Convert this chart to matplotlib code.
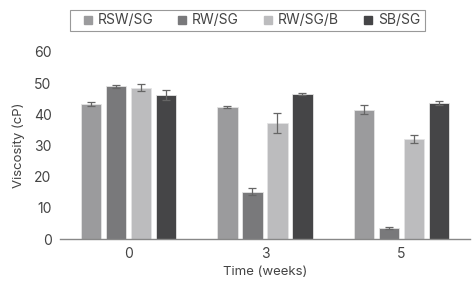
import matplotlib
matplotlib.use("Agg")
import matplotlib.pyplot as plt
import numpy as np
from matplotlib.lines import Line2D
from matplotlib.patches import Rectangle

# data
weeks = ["0", "3", "5"]
series = ["RSW/SG", "RW/SG", "RW/SG/B", "SB/SG"]
rsw = [43.2, 42.3, 41.5]
rw = [49.0, 15.2, 3.6]
rwb = [48.5, 37.1, 32.0]
sb = [46.1, 46.5, 43.5]
rsw_err = [0.7, 0.2, 1.4]
rw_err = [0.5, 1.1, 0.4]
rwb_err = [1.1, 3.2, 1.2]
sb_err = [1.6, 0.3, 0.6]

colors = ["#9b9b9d", "#79797b", "#bcbcbe", "#454547"]
values = [rsw, rw, rwb, sb]
errors = [rsw_err, rw_err, rwb_err, sb_err]

plt.rcParams["font.family"] = ["Inter", "DejaVu Sans"]
txt = "#444444"

W, H = 476, 288
fig = plt.figure(figsize=(W / 100, H / 100), dpi=100)
ax = fig.add_axes([0.126, 0.170, 0.861, 0.650])

x = np.arange(len(weeks))
pitch, width = 0.183, 0.148
for i, (vals, errs, c) in enumerate(zip(values, errors, colors)):
    ax.bar(x + (i - 1.5) * pitch, vals, width, color=c, edgecolor="#e4e4e4",
           linewidth=0.6, yerr=errs, error_kw=dict(ecolor="#666666", elinewidth=0.9,
                                                   capsize=3, capthick=0.9))

ax.set_xlim(-0.5, 2.5)
ax.set_ylim(0, 60)
ax.set_yticks(range(0, 61, 10))
ax.set_xticks(x)
ax.set_xticklabels(weeks)
ax.tick_params(length=0, labelsize=10, colors=txt, pad=6)
for s in ["top", "right", "left"]:
    ax.spines[s].set_visible(False)
ax.spines["bottom"].set_color("#888888")
ax.spines["bottom"].set_linewidth(1.0)
ax.set_ylabel("Viscosity (cP)", fontsize=9.5, color=txt, labelpad=6)
ax.set_xlabel("Time (weeks)", fontsize=9.5, color=txt, labelpad=3)

# legend box is wider than its content in the reference, so draw it separately
fig.patches.append(Rectangle((70 / W, 1 - 31 / H), 355 / W, 21 / H, transform=fig.transFigure,
                             fill=False, edgecolor="#999999", linewidth=0.8))
handles = [Line2D([], [], marker="s", linestyle="", markersize=6, color=c) for c in colors]
fig.legend(handles, series, loc="center", bbox_to_anchor=(0.526, 0.929), ncol=4,
           frameon=False, fontsize=10, handletextpad=0.2,
           columnspacing=1.6, borderpad=0.3, handlelength=1.0, labelcolor=txt)

fig.savefig("out.png", dpi=100)
